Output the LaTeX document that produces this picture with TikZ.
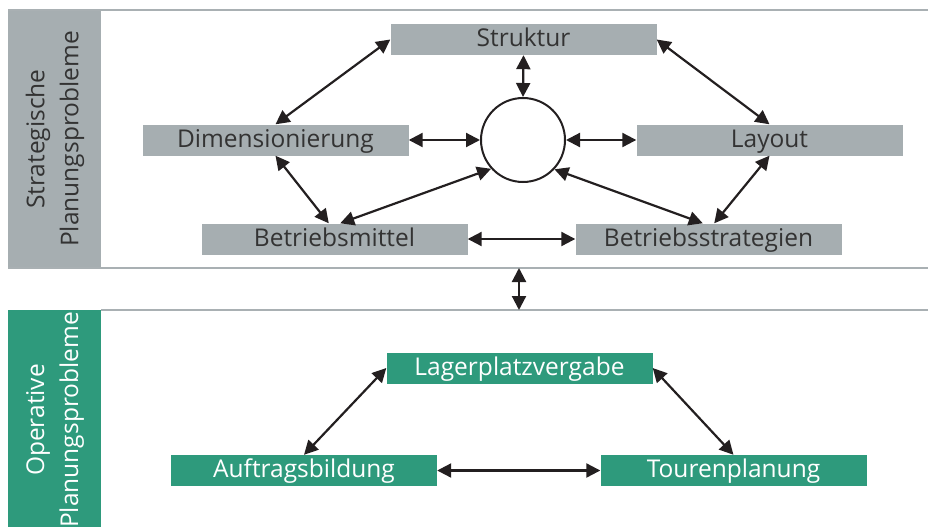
\documentclass[tikz,border=0pt]{standalone}
\usepackage{fontspec}
\setmainfont{Open Sans}
\usetikzlibrary{arrows.meta}
\definecolor{boxgray}{HTML}{A6AEB1}
\definecolor{linegray}{HTML}{A9B0B3}
\definecolor{opgreen}{HTML}{2E9A7C}
\definecolor{ink}{HTML}{231F20}
\definecolor{textgray}{HTML}{333333}
\tikzset{
  base/.style={minimum width=266pt, minimum height=31pt, inner sep=0pt,
    text height=19pt, text depth=5pt,
    font=\fontsize{24.5}{28}\selectfont},
  stratbox/.style={base, fill=boxgray, text=textgray},
  opbox/.style={base, fill=opgreen, text=white},
  sidelabel/.style={rotate=90, align=center, inner sep=0pt,
    font=\fontsize{24.5}{34}\selectfont},
  link/.style={draw=ink, line width=2.2pt,
    {Triangle[length=14pt,width=14pt]}-{Triangle[length=14pt,width=14pt]}},
  rule/.style={draw=linegray, line width=2.5pt},
}
\begin{document}
\begin{tikzpicture}[x=1pt, y=-1pt]
\useasboundingbox (0,0) rectangle (928,527);
% panel frames and side strips
\fill[boxgray] (8,9) rectangle (101,269);
\fill[opgreen] (8,310) rectangle (101,527);
\draw[rule] (8,10) -- (928,10);
\draw[rule] (8,268) -- (928,268);
\draw[rule] (101,310) -- (928,310);
\node[sidelabel, text=textgray] (stratlabel) at (55,139) {Strategische\\Planungsprobleme};
\node[sidelabel, text=white] (oplabel) at (55,420) {Operative\\Planungsprobleme};
% strategic problems
\node[stratbox] (struk) at (523.5,39.5) {Struktur};
\node[stratbox] (dim) at (275.5,140) {Dimensionierung};
\node[stratbox] (lay) at (769.5,140) {Layout};
\node[stratbox] (bmit) at (334.5,239) {Betriebsmittel};
\node[stratbox] (bstr) at (708.5,239) {Betriebsstrategien};
\node[draw=ink, line width=2pt, circle, minimum size=84pt, inner sep=0pt] (circ) at (523,140) {};
% operative problems
\node[opbox] (lager) at (519.5,368) {Lagerplatzvergabe};
\node[opbox] (auft) at (304,470.5) {Auftragsbildung};
\node[opbox] (tour) at (733.5,470.5) {Tourenplanung};
% link between the two panels
\coordinate (stratedge) at (519,268);
\coordinate (opedge) at (519,310);
% connectors
\draw[link] (struk.west) -- (dim.north);
\draw[link] (struk.east) -- (lay.north);
\draw[link] (struk.south) -- (circ.north);
\draw[link] (dim.east) -- (circ.west);
\draw[link] (circ.east) -- (lay.west);
\draw[link] (dim.south) -- (bmit.110);
\draw[link] (bmit.70) -- (circ.222);
\draw[link] (circ.-43) -- (bstr.110);
\draw[link] (lay.south) -- (bstr.70);
\draw[link] (bmit.east) -- (bstr.west);
\draw[link] (stratedge) -- (opedge);
\draw[link] (lager.west) -- (auft.north);
\draw[link] (lager.east) -- (tour.north);
\draw[link] (auft.east) -- (tour.west);
\end{tikzpicture}
\end{document}
